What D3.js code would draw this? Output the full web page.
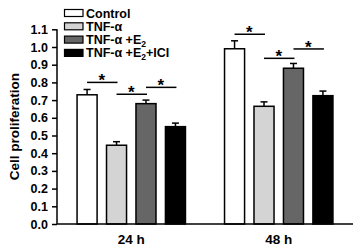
<!DOCTYPE html>
<html><head><meta charset="utf-8">
<script src="https://cdn.jsdelivr.net/npm/d3@7"></script>
<style>body{margin:0;background:#fff}svg{display:block}text{font-family:"Liberation Sans",Arial,sans-serif;font-weight:bold}</style>
</head><body><svg id="c" width="359" height="249"></svg>
<script>
const groups = ["24 h", "48 h"];
const series = ["Control", "TNF-α", "TNF-α +E2", "TNF-α +E2+ICI"];
const colors = ["#ffffff", "#d4d4d4", "#666666", "#000000"];
const values24 = [0.73, 0.445, 0.68, 0.55];
const values48 = [0.99, 0.665, 0.88, 0.725];
const errors24 = [0.03, 0.02, 0.02, 0.02];
const errors48 = [0.045, 0.025, 0.027, 0.026];
const yTicks = [0, 0.1, 0.2, 0.3, 0.4, 0.5, 0.6, 0.7, 0.8, 0.9, 1.0, 1.1];
// significance brackets: group, from series idx, to series idx, level
const sigGroup = ["24 h", "24 h", "24 h", "48 h", "48 h", "48 h"];
const sigFrom = [0, 1, 2, 0, 1, 2];
const sigTo = [1, 2, 3, 1, 2, 3];
const sigLevel = [0.80, 0.733, 0.772, 1.072, 0.936, 0.989];

const svg = d3.select("#c");
const y = d3.scaleLinear().domain([0, 1.1]).range([224, 29.3]);
const x0 = d3.scaleBand().domain(groups).range([57, 353]).paddingInner(0.265).paddingOuter(0.136);
const x1 = d3.scaleBand().domain(series).range([0, x0.bandwidth()]).paddingInner(0.32).paddingOuter(0);

const vals = {"24 h": values24, "48 h": values48};
const errs = {"24 h": errors24, "48 h": errors48};
const data = [];
groups.forEach(g => series.forEach((s, i) => data.push({g, s, i, v: vals[g][i], e: errs[g][i]})));

// error bars
const eb = svg.append("g").attr("stroke", "#000").attr("stroke-width", 1.5);
data.forEach(d => {
  const cx = x0(d.g) + x1(d.s) + x1.bandwidth() / 2;
  eb.append("line").attr("x1", cx).attr("x2", cx).attr("y1", y(d.v)).attr("y2", y(d.v + d.e));
  eb.append("line").attr("x1", cx - 3.5).attr("x2", cx + 3.5).attr("y1", y(d.v + d.e)).attr("y2", y(d.v + d.e));
});

// bars
svg.append("g").selectAll("rect").data(data).join("rect")
  .attr("x", d => x0(d.g) + x1(d.s))
  .attr("y", d => y(d.v))
  .attr("width", x1.bandwidth())
  .attr("height", d => y(0) - y(d.v))
  .attr("fill", d => colors[d.i])
  .attr("stroke", "#000").attr("stroke-width", 1.5);

// y axis
const ya = svg.append("g").attr("transform", "translate(57,0)")
  .call(d3.axisLeft(y).tickValues(yTicks).tickFormat(d3.format(".1f")).tickSize(5).tickPadding(4));
ya.select(".domain").attr("stroke-width", 1.5).attr("d", `M0,${y(1.1)}V${y(0)}`);
ya.selectAll(".tick line").attr("stroke-width", 1.5);
ya.selectAll(".tick text").attr("font-size", 12.5).attr("font-family", "Liberation Sans, Arial, sans-serif").attr("font-weight", "bold").attr("fill", "#000");

// x axis
svg.append("line").attr("x1", 57).attr("x2", 353).attr("y1", y(0)).attr("y2", y(0)).attr("stroke", "#000").attr("stroke-width", 1.5);
svg.append("g").selectAll("text").data(groups).join("text")
  .attr("x", d => x0(d) + x0.bandwidth() / 2).attr("y", 244)
  .attr("text-anchor", "middle").attr("font-size", 13.5).text(d => d);

// y title
svg.append("text").attr("transform", `translate(19,${(y(0) + y(1.1)) / 2}) rotate(-90)`)
  .attr("text-anchor", "middle").attr("font-size", 13.5).text("Cell proliferation");

// significance
const sg = svg.append("g");
sigGroup.forEach((g, k) => {
  const xa = x0(g) + x1(series[sigFrom[k]]) + x1.bandwidth() / 2;
  const xb = x0(g) + x1(series[sigTo[k]]) + x1.bandwidth() / 2;
  const yy = y(sigLevel[k]);
  sg.append("line").attr("x1", xa).attr("x2", xb + 1).attr("y1", yy).attr("y2", yy).attr("stroke", "#000").attr("stroke-width", 1.5);
  sg.append("text").attr("x", (xa + xb) / 2).attr("y", yy + 4).attr("text-anchor", "middle").attr("font-size", 17).text("*");
});

// legend
const lg = svg.append("g");
series.forEach((s, i) => {
  const ly = 9.5 + i * 13.3;
  lg.append("rect").attr("x", 64.5).attr("y", ly).attr("width", 18.5).attr("height", 7)
    .attr("fill", colors[i]).attr("stroke", "#000").attr("stroke-width", 1.2);
  const t = lg.append("text").attr("x", 86).attr("y", ly + 8).attr("font-size", 12.5);
  const m = s.match(/^(.*?E)2(.*)$/);
  if (m) {
    t.append("tspan").text(m[1]);
    t.append("tspan").attr("font-size", 8.5).attr("dy", 3).text("2");
    if (m[2]) t.append("tspan").attr("dy", -3).text(m[2]);
  } else t.text(s);
});
</script></body></html>
